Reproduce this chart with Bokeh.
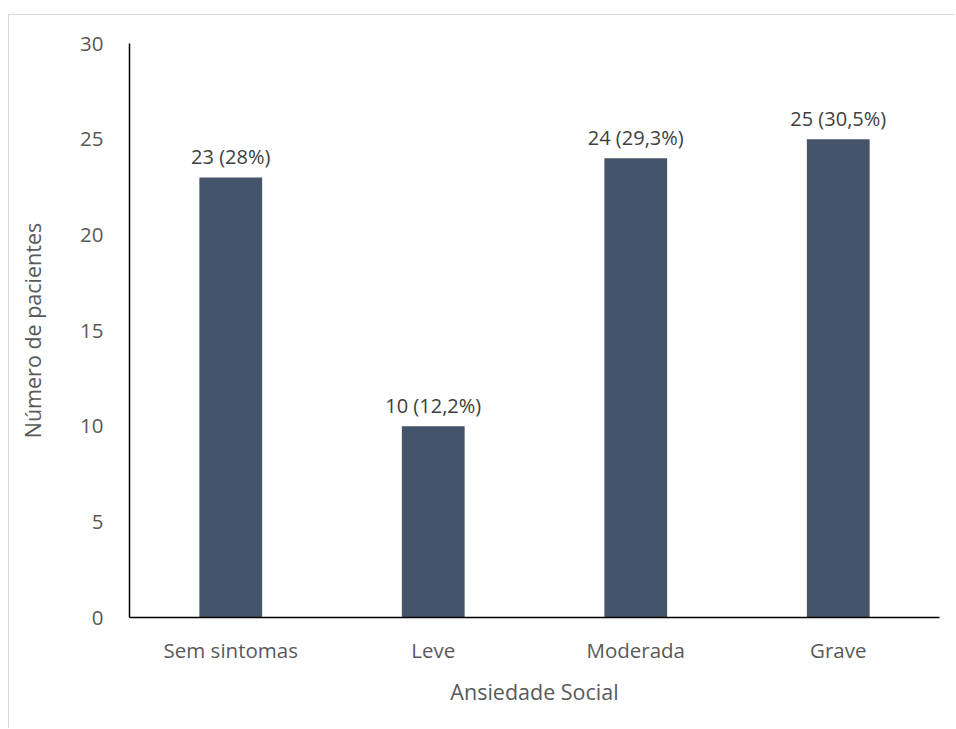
from bokeh.plotting import figure
from bokeh.models import ColumnDataSource, LabelSet, Range1d, FixedTicker, Spacer
from bokeh.layouts import column, row
from bokeh.core.properties import value
from bokeh.embed import file_html
from bokeh.resources import INLINE

categories = ["Sem sintomas", "Leve", "Moderada", "Grave"]
counts = [23, 10, 24, 25]
labels = ["23 (28%)", "10 (12,2%)", "24 (29,3%)", "25 (30,5%)"]
y_ticks = [0, 5, 10, 15, 20, 25, 30]

FONT = "Open Sans"
src = ColumnDataSource(data=dict(cat=categories, n=counts, lab=labels))

p = figure(x_range=categories, y_range=Range1d(0, 30), width=947, height=714,
           output_backend="svg", toolbar_location=None,
           min_border_left=120, min_border_right=17, min_border_top=28, min_border_bottom=112)
p.vbar(x="cat", top="n", width=0.31, source=src, fill_color="#44546A", line_color=None)

p.add_layout(LabelSet(x="cat", y="n", text="lab", source=src, text_align="center",
                      text_baseline="bottom", y_offset=7, text_font=value(FONT),
                      text_font_size="20px", text_color="#404040"))

p.outline_line_color = None
p.grid.grid_line_color = None
p.background_fill_color = "white"
p.border_fill_color = "white"

p.yaxis.ticker = FixedTicker(ticks=y_ticks)
for ax in (p.xaxis, p.yaxis):
    ax.axis_line_color = "#000000"
    ax.axis_line_width = 1.5
    ax.major_tick_line_color = None
    ax.minor_tick_line_color = None
    ax.major_label_text_font = FONT
    ax.major_label_text_font_size = "20.5px"
    ax.major_label_text_color = "#595959"
    ax.axis_label_text_font = FONT
    ax.axis_label_text_font_size = "21.5px"
    ax.axis_label_text_color = "#595959"
    ax.axis_label_text_font_style = "normal"

p.yaxis.axis_label = "Número de pacientes"
p.xaxis.axis_label = "Ansiedade Social"
p.yaxis.major_label_standoff = 20
p.xaxis.major_label_standoff = 12
p.yaxis.axis_label_standoff = 30
p.xaxis.axis_label_standoff = 10

p.styles = {"border-left": "1px solid #d9d9d9", "border-top": "1px solid #d9d9d9"}

layout = column(Spacer(height=14), row(Spacer(width=8), p))
open("out.html", "w").write(file_html(layout, INLINE))
